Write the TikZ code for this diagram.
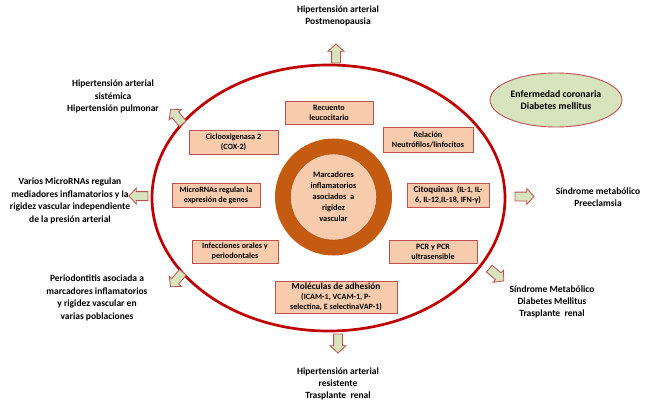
\documentclass[tikz,border=0pt]{standalone}
\usepackage{fontspec}
\setmainfont{Carlito}
\usetikzlibrary{shapes.arrows,shapes.geometric}
\definecolor{ered}{HTML}{C00000}
\definecolor{bred}{HTML}{C0504D}
\definecolor{peach}{HTML}{F8CBAD}
\definecolor{rust}{HTML}{C55A11}
\definecolor{lgreen}{HTML}{D7E4BD}
\tikzset{
  mbox/.style={draw=bred, fill=peach, line width=0.9pt, inner sep=0pt, align=center,
    font=\bfseries\fontsize{8.1}{10}\selectfont},
  otext/.style={align=center, inner sep=0pt, font=\bfseries\fontsize{9.5}{12.4}\selectfont},
  garrow/.style={single arrow, draw=bred, fill=lgreen, line width=0.8pt,
    minimum height=19pt, single arrow head extend=3.5pt,
    inner xsep=0pt, inner ysep=4pt, single arrow tip angle=95},
}
\begin{document}
\begin{tikzpicture}[x=1pt,y=-1pt]
\useasboundingbox (0,0) rectangle (655,414);
% main ellipse
\node[draw=ered, line width=2.7pt, ellipse, minimum width=353pt, minimum height=266pt, inner sep=0pt] (main) at (328.5,198) {};
% central circle
\node[circle, fill=rust, minimum size=117pt, inner sep=0pt] (ring) at (333.5,197) {};
\node[circle, fill=peach, draw=rust!80!black, line width=0.4pt, minimum size=86pt, inner sep=0pt, align=center,
  font=\bfseries\fontsize{8.3}{11}\selectfont] (core) at (333.5,197)
  {Marcadores\\inflamatorios\\asociados\ \ a\\rigidez\\vascular};
% boxes
\node[mbox, minimum width=88pt, minimum height=23pt] (rec) at (329,112.5) {Recuento\\leucocitario};
\node[mbox, minimum width=89pt, minimum height=24pt] (cox) at (233.5,142) {Ciclooxigenasa 2\\(COX-2)};
\node[mbox, minimum width=90pt, minimum height=25pt] (rel) at (428,139.5) {Relación\\Neutrófilos/linfocitos};
\node[mbox, minimum width=88pt, minimum height=24pt] (mir) at (216,195) {MicroRNAs regulan la\\expresión de genes};
\node[mbox, minimum width=82pt, minimum height=24pt] (cit) at (448,195) {{\fontsize{9}{10}\selectfont Citoquinas}\ \ (IL-1, IL-\\6, IL-12,IL-18, IFN-γ)};
\node[mbox, minimum width=86pt, minimum height=23pt] (inf) at (235,251.5) {Infecciones orales y\\periodontales};
\node[mbox, minimum width=88pt, minimum height=23pt] (pcr) at (433,251.5) {PCR y PCR\\ultrasensible};
\node[mbox, minimum width=122pt, minimum height=32pt] (mol) at (336,297) {{\fontsize{9.3}{10}\selectfont Moléculas de adhesión}\\(ICAM-1, VCAM-1, P-\\selectina, E selectinaVAP-1)};
% green ellipse
\node[ellipse, draw=bred, fill=lgreen, line width=0.9pt, minimum width=132pt, minimum height=54pt, inner sep=0pt,
  align=center, font=\bfseries\fontsize{9.8}{11.4}\selectfont] (cor) at (556,100) {Enfermedad coronaria\\Diabetes mellitus};
% arrows
\node[garrow, rotate=90] (aT) at (336,55.5) {};
\node[garrow, rotate=130] (aTL) at (178,118) {};
\node[garrow, rotate=180] (aL) at (140.5,196) {};
\node[garrow, rotate=0] (aR) at (522.5,196.5) {};
\node[garrow, rotate=-40] (aBR) at (495,273.5) {};
\node[garrow, rotate=-90] (aB) at (338,341.5) {};
\node[garrow, rotate=-130] (aBL) at (178,278) {};
% outer texts
\node[otext] (tT) at (338,16) {Hipertensión arterial\\Postmenopausia};
\node[otext] (tTL) at (113,96.5) {Hipertensión arterial\\sistémica\\Hipertensión pulmonar};
\node[otext] (tL) at (70,201) {Varios MicroRNAs regulan\\mediadores inflamatorios y la\\rigidez vascular independiente\\de la presión arterial};
\node[otext] (tBL) at (97,298) {Periodontitis asociada a\\marcadores inflamatorios\\y rigidez vascular en\\varias poblaciones};
\node[otext] (tR) at (598,197.5) {Síndrome metabólico\\Preeclamsia};
\node[otext] (tBR) at (552,302) {Síndrome Metabólico\\Diabetes Mellitus\\Trasplante\ \ renal};
\node[otext] (tB) at (338,384) {Hipertensión arterial\\resistente\\Trasplante\ \ renal};
\end{tikzpicture}
\end{document}
